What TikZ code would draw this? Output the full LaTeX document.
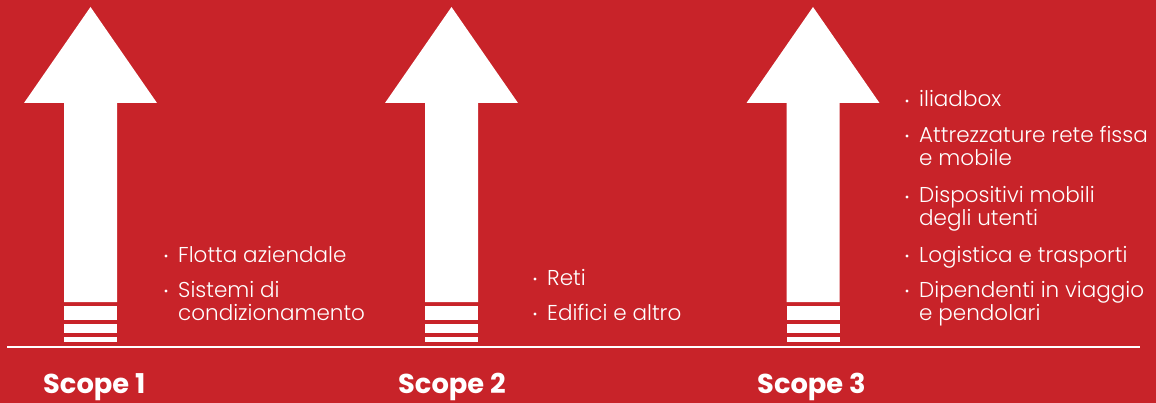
\documentclass[tikz,border=0pt]{standalone}
\usepackage{fontspec}
\setmainfont{Poppins}
\newfontfamily\lightf{Poppins Light}
\newfontfamily\boldf{Poppins Bold}
\definecolor{bgred}{RGB}{200,35,41}
\tikzset{
  itemtext/.style={anchor=base west, inner sep=0pt, text=white, font=\lightf\fontsize{21.5}{23}\selectfont, align=left},
  scopelabel/.style={anchor=base west, inner sep=0pt, text=white, font=\boldf\fontsize{27.3}{30}\selectfont},
  dotmark/.style={fill=white, draw=none},
  bigarrow/.style={fill=white, draw=none},
}
\newcommand{\uparrowshape}[1]{%
  \fill[bigarrow] (#1-26.5,302) -- (#1-26.5,103) -- (#1-66.5,103) -- (#1,7) -- (#1+66.5,103) -- (#1+26.5,103) -- (#1+26.5,302) -- cycle;
  \fill[bigarrow] (#1-26.5,306) rectangle (#1+26.5,320);
  \fill[bigarrow] (#1-26.5,324) rectangle (#1+26.5,333);
  \fill[bigarrow] (#1-26.5,337) rectangle (#1+26.5,342);
}
\begin{document}
\begin{tikzpicture}[x=1pt,y=-1pt]
\fill[bgred] (0,0) rectangle (1156,403);
\useasboundingbox (0,0) rectangle (1156,403);
\uparrowshape{90.5}
\uparrowshape{451.5}
\uparrowshape{813}
\coordinate (lineL) at (7,347);
\coordinate (lineR) at (1140,347);
\draw[white, line width=2pt] (lineL) -- (lineR);
% Scope labels
\node[scopelabel] (s1) at (43,393) {Scope 1};
\node[scopelabel] (s2) at (398,393) {Scope 2};
\node[scopelabel] (s3) at (757,393) {Scope 3};
% Scope 1 items
\node[itemtext] (a1) at (178,262) {Flotta aziendale};
\node[itemtext] (a2) at (178,320) {Sistemi di\\condizionamento};
\fill[dotmark] (166,256) circle (1.6);
\fill[dotmark] (166,291) circle (1.6);
% Scope 2 items
\node[itemtext] (b1) at (547,285) {Reti};
\node[itemtext] (b2) at (547,320) {Edifici e altro};
\fill[dotmark] (535,279) circle (1.6);
\fill[dotmark] (535,314) circle (1.6);
% Scope 3 items
\node[itemtext] (c1) at (919,107) {iliadbox};
\node[itemtext] (c2) at (919,166) {Attrezzature rete fissa\\e mobile};
\node[itemtext] (c3) at (919,226) {Dispositivi mobili\\degli utenti};
\node[itemtext] (c4) at (919,262) {Logistica e trasporti};
\node[itemtext] (c5) at (919,320) {Dipendenti in viaggio\\e pendolari};
\foreach \yy in {101,136,197,256,291} {\fill[dotmark] (907,\yy) circle (1.6);}
\end{tikzpicture}
\end{document}
